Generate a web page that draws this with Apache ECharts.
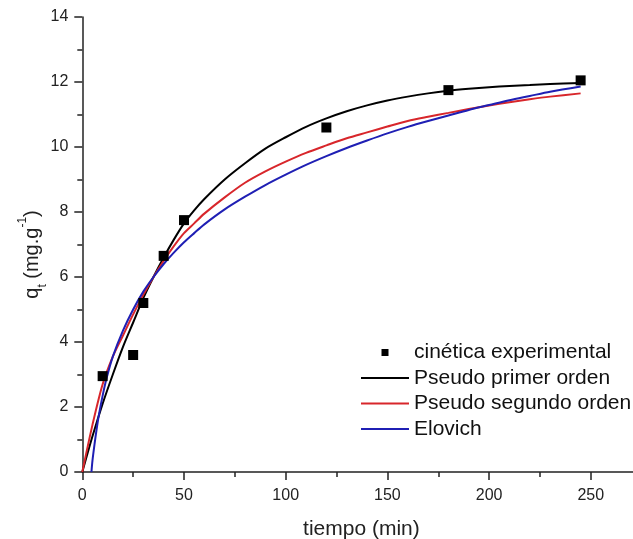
<!DOCTYPE html>
<html>
<head>
<meta charset="utf-8">
<script src="https://cdn.jsdelivr.net/npm/echarts@6/dist/echarts.min.js"></script>
<style>
html,body{margin:0;padding:0;background:#fff;}
#chart{width:633px;height:539px;}
</style>
</head>
<body>
<div id="chart"></div>
<script>
// Experimental points (tiempo [min], q_t [mg/g])
var expT = [10, 25, 30, 40, 50, 120, 180, 245];
var expQ = [2.95, 3.6, 5.2, 6.65, 7.75, 10.6, 11.75, 12.05];

// Pseudo primer orden curve
var pfoT = [0, 5, 10, 15, 20, 25, 30, 35, 40, 45, 50, 55, 60, 70, 80, 90, 100, 110, 120, 130, 140, 150, 160, 170, 180, 190, 200, 210, 220, 230, 245];
var pfoQ = [0, 1.1, 2.1, 3.0, 3.85, 4.6, 5.35, 6.0, 6.6, 7.15, 7.65, 8.05, 8.4, 9.0, 9.5, 9.95, 10.3, 10.62, 10.88, 11.1, 11.28, 11.43, 11.55, 11.65, 11.73, 11.79, 11.84, 11.88, 11.91, 11.94, 11.97];

// Pseudo segundo orden curve
var psoT = [0, 5, 10, 15, 20, 25, 30, 35, 40, 45, 50, 55, 60, 70, 80, 90, 100, 110, 120, 130, 140, 150, 160, 170, 180, 190, 200, 210, 220, 230, 245];
var psoQ = [0, 1.45, 2.7, 3.55, 4.2, 4.85, 5.45, 6.0, 6.5, 6.95, 7.35, 7.65, 7.95, 8.45, 8.9, 9.25, 9.55, 9.82, 10.05, 10.27, 10.45, 10.63, 10.8, 10.93, 11.05, 11.17, 11.28, 11.38, 11.47, 11.55, 11.65];

// Elovich curve
var eloT = [4.5, 5, 6, 7, 8, 10, 12, 15, 20, 25, 30, 35, 40, 45, 50, 55, 60, 70, 80, 90, 100, 110, 120, 130, 140, 150, 160, 170, 180, 190, 200, 210, 220, 230, 245];
var eloQ = [0, 0.35, 0.85, 1.3, 1.7, 2.35, 2.9, 3.55, 4.35, 5.0, 5.55, 6.0, 6.4, 6.75, 7.07, 7.35, 7.62, 8.08, 8.47, 8.83, 9.15, 9.45, 9.72, 9.97, 10.2, 10.42, 10.62, 10.8, 10.97, 11.14, 11.29, 11.44, 11.57, 11.7, 11.86];

var seriesNames = ['cinética experimental', 'Pseudo primer orden', 'Pseudo segundo orden', 'Elovich'];
var xTitle = 'tiempo (min)';

function pairs(xs, ys) { return xs.map(function (x, i) { return [x, ys[i]]; }); }

var FONT = 'Liberation Sans, Arial, sans-serif';
var AX = '#222';
var chart = echarts.init(document.getElementById('chart'), null, {renderer: 'canvas'});
chart.setOption({
  animation: false,
  backgroundColor: '#fff',
  textStyle: {fontFamily: FONT},
  grid: {left: 82.3, top: 17, height: 455, width: 610.2, containLabel: false, outerBoundsMode: 'none'},
  xAxis: {
    type: 'value', min: 0, max: 300, interval: 50,
    name: xTitle, nameLocation: 'middle', nameGap: 47, nameMoveOverlap: false,
    nameTextStyle: {fontSize: 21, color: AX, fontFamily: FONT, padding: [0, 52, 0, 0]},
    axisLine: {show: true, onZero: false, lineStyle: {color: AX, width: 1.5}},
    axisTick: {show: true, inside: false, length: 8, lineStyle: {color: AX, width: 1.5}},
    minorTick: {show: true, splitNumber: 2, length: 5, lineStyle: {color: AX, width: 1.5}},
    axisLabel: {fontSize: 16, color: AX, margin: 16, fontFamily: FONT,
      formatter: function (v) { return v > 250 ? '' : String(v); }},
    splitLine: {show: false}
  },
  yAxis: {
    type: 'value', min: 0, max: 14, interval: 2,
    name: 'q{sub|t} (mg.g{sup|-1})', nameLocation: 'middle', nameGap: 40, nameMoveOverlap: false,
    nameTextStyle: {fontSize: 20, color: AX, fontFamily: FONT, padding: [0, 20, 0, 0],
      rich: {
        sub: {fontSize: 12, color: AX, verticalAlign: 'bottom', padding: [0, 0, -6, 0], fontFamily: FONT},
        sup: {fontSize: 12, color: AX, verticalAlign: 'top', padding: [-6, 0, 0, 0], fontFamily: FONT}
      }},
    axisLine: {show: true, onZero: false, lineStyle: {color: AX, width: 1.5}},
    axisTick: {show: true, inside: false, length: 8, lineStyle: {color: AX, width: 1.5}},
    minorTick: {show: true, splitNumber: 2, length: 5, lineStyle: {color: AX, width: 1.5}},
    axisLabel: {fontSize: 16, color: AX, margin: 14, fontFamily: FONT},
    splitLine: {show: false}
  },
  legend: {
    orient: 'vertical', left: 361, top: 340, padding: 0,
    itemWidth: 48, itemHeight: 7, itemGap: 0.5,
    textStyle: {fontSize: 21, color: '#111', lineHeight: 25, fontFamily: FONT},
    data: [
      {name: seriesNames[0], icon: 'path://M0,0H10V10H0Z'},
      {name: seriesNames[1], icon: 'path://M0,0H48V2H0Z'},
      {name: seriesNames[2], icon: 'path://M0,0H48V2H0Z'},
      {name: seriesNames[3], icon: 'path://M0,0H48V2H0Z'}
    ]
  },
  series: [
    {name: seriesNames[1], type: 'line', data: pairs(pfoT, pfoQ), smooth: 0.3, symbol: 'none',
      lineStyle: {color: '#000', width: 2}, itemStyle: {color: '#000'}, z: 2},
    {name: seriesNames[2], type: 'line', data: pairs(psoT, psoQ), smooth: 0.3, symbol: 'none',
      lineStyle: {color: '#d8262b', width: 2}, itemStyle: {color: '#d8262b'}, z: 2},
    {name: seriesNames[3], type: 'line', data: pairs(eloT, eloQ), smooth: 0.3, symbol: 'none',
      lineStyle: {color: '#1f1fb4', width: 2}, itemStyle: {color: '#1f1fb4'}, z: 3},
    {name: seriesNames[0], type: 'scatter', data: pairs(expT, expQ), symbol: 'rect', symbolSize: 10,
      itemStyle: {color: '#000', opacity: 1}, z: 5}
  ]
});
</script>
</body>
</html>
